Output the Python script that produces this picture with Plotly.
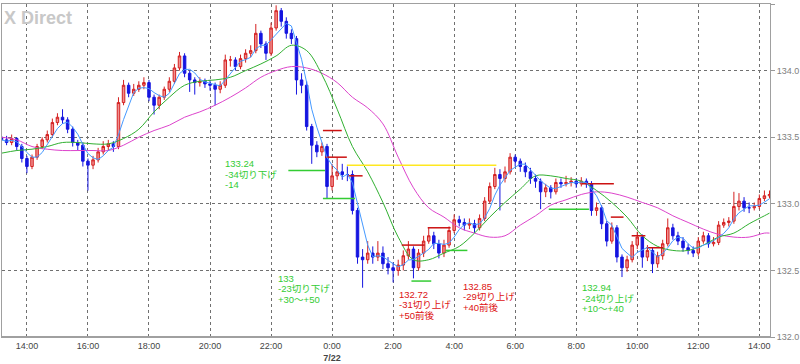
import plotly.graph_objects as go
import pandas as pd

# ---------------- data (10-minute bars) ----------------
first_open = 133.50
closes = [133.48, 133.46, 133.49, 133.43, 133.34, 133.28, 133.35, 133.43, 133.48, 133.52,
          133.61, 133.65, 133.63, 133.56, 133.46, 133.44, 133.32, 133.29, 133.33, 133.39,
          133.43, 133.45, 133.43, 133.76, 133.89, 133.83, 133.86, 133.89, 133.91, 133.80,
          133.74, 133.80, 133.86, 133.92, 134.02, 134.11, 133.98, 133.93, 133.91, 133.92,
          133.90, 133.89, 133.86, 133.89, 134.08, 134.08, 134.03, 134.09, 134.13, 134.15,
          134.28, 134.20, 134.13, 134.32, 134.45, 134.37, 134.28, 134.24, 133.93, 133.89,
          133.58, 133.44, 133.39, 133.43, 133.13, 133.21, 133.24, 133.22, 133.22, 132.95,
          132.60, 132.58, 132.63, 132.60, 132.63, 132.55, 132.52, 132.50, 132.54, 132.61,
          132.66, 132.52, 132.63, 132.72, 132.76, 132.70, 132.63, 132.69, 132.80, 132.88,
          132.86, 132.84, 132.85, 132.82, 132.89, 133.02, 133.13, 133.22, 133.19, 133.24,
          133.35, 133.32, 133.28, 133.24, 133.19, 133.17, 133.09, 133.12, 133.09, 133.16,
          133.15, 133.16, 133.17, 133.15, 133.17, 133.15, 132.95, 132.97, 132.85, 132.72,
          132.82, 132.60, 132.52, 132.58, 132.69, 132.75, 132.60, 132.65, 132.55, 132.61,
          132.70, 132.82, 132.76, 132.72, 132.67, 132.65, 132.63, 132.72, 132.76, 132.70,
          132.71, 132.84, 132.86, 132.87, 132.98, 133.02, 132.97, 132.97, 132.98, 133.04,
          133.06, 133.07]
highs = [133.52, 133.51, 133.52, 133.50, 133.45, 133.36, 133.37, 133.45, 133.50, 133.55,
         133.64, 133.68, 133.71, 133.65, 133.58, 133.48, 133.46, 133.34, 133.36, 133.42,
         133.47, 133.48, 133.47, 133.80, 133.93, 133.91, 133.90, 133.92, 133.95, 133.93,
         133.82, 133.82, 133.88, 133.95, 134.05, 134.14, 134.13, 134.00, 133.95, 133.95,
         133.94, 133.93, 133.91, 133.92, 134.12, 134.11, 134.10, 134.12, 134.16, 134.19,
         134.35, 134.30, 134.22, 134.36, 134.49, 134.47, 134.40, 134.31, 134.26, 133.98,
         133.92, 133.60, 133.47, 133.46, 133.45, 133.30, 133.35, 133.30, 133.28, 133.25,
         132.97, 132.66, 132.72, 132.68, 132.72, 132.68, 132.60, 132.56, 132.58, 132.65,
         132.72, 132.68, 132.66, 132.76, 132.82, 132.79, 132.73, 132.73, 132.83, 132.92,
         132.91, 132.89, 132.89, 132.88, 132.92, 133.05, 133.16, 133.27, 133.26, 133.28,
         133.38, 133.37, 133.34, 133.31, 133.27, 133.22, 133.19, 133.15, 133.14, 133.19,
         133.19, 133.21, 133.20, 133.19, 133.20, 133.19, 133.17, 133.01, 132.99, 132.87,
         132.86, 132.84, 132.62, 132.61, 132.72, 132.79, 132.77, 132.69, 132.67, 132.64,
         132.73, 132.89, 132.85, 132.79, 132.75, 132.70, 132.68, 132.75, 132.79, 132.78,
         132.75, 132.87, 132.89, 132.90, 133.09, 133.08, 133.05, 133.01, 133.01, 133.07,
         133.10, 133.10]
lows = [133.45, 133.44, 133.44, 133.40, 133.31, 133.23, 133.26, 133.33, 133.41, 133.46,
        133.50, 133.59, 133.60, 133.53, 133.43, 133.40, 133.28, 133.10, 133.26, 133.31,
        133.37, 133.40, 133.39, 133.41, 133.74, 133.80, 133.81, 133.84, 133.86, 133.77,
        133.67, 133.71, 133.78, 133.84, 133.90, 134.00, 133.95, 133.84, 133.82, 133.88,
        133.87, 133.85, 133.74, 133.83, 133.87, 134.03, 134.00, 134.01, 134.06, 134.10,
        134.13, 134.17, 134.08, 134.11, 134.30, 134.33, 134.24, 134.20, 133.82, 133.83,
        133.55, 133.30, 133.35, 133.36, 133.04, 133.10, 133.18, 133.18, 133.17, 132.92,
        132.55, 132.37, 132.55, 132.55, 132.57, 132.51, 132.47, 132.41, 132.46, 132.50,
        132.58, 132.44, 132.50, 132.60, 132.70, 132.66, 132.59, 132.60, 132.67, 132.78,
        132.83, 132.80, 132.81, 132.78, 132.80, 132.87, 133.00, 133.11, 132.95, 133.16,
        133.22, 133.28, 133.24, 133.20, 133.15, 133.12, 132.96, 133.05, 133.04, 133.07,
        133.12, 133.13, 133.13, 133.12, 133.13, 133.12, 132.91, 132.91, 132.81, 132.68,
        132.70, 132.56, 132.45, 132.49, 132.56, 132.66, 132.52, 132.57, 132.48, 132.52,
        132.58, 132.68, 132.73, 132.69, 132.64, 132.62, 132.60, 132.61, 132.70, 132.67,
        132.68, 132.69, 132.82, 132.83, 132.85, 132.95, 132.94, 132.93, 132.95, 132.96,
        133.02, 133.04]

# moving averages read every 30 minutes (bar index), plus the last bar
ma_index = list(range(0, 151, 3)) + [151]
ma_green = [133.38, 133.40, 133.41, 133.43, 133.46, 133.46, 133.45, 133.45, 133.49, 133.56,
            133.69, 133.80, 133.89, 133.92, 133.93, 133.95, 134.00, 134.05, 134.11, 134.19,
            134.15, 133.97, 133.71, 133.43, 133.24, 133.01, 132.75, 132.58, 132.58, 132.63,
            132.68, 132.78, 132.90, 133.01, 133.11, 133.21, 133.21, 133.19, 133.17, 133.10,
            133.01, 132.90, 132.76, 132.68, 132.65, 132.65, 132.69, 132.75, 132.78, 132.85,
            132.91, 132.93]
ma_magenta = [133.50, 133.48, 133.43, 133.41, 133.40, 133.40, 133.40, 133.40, 133.44, 133.50,
              133.55, 133.59, 133.65, 133.69, 133.74, 133.80, 133.87, 133.95, 134.00, 134.03,
              134.02, 133.98, 133.91, 133.80, 133.72, 133.60, 133.35, 133.12, 132.97, 132.90,
              132.82, 132.78, 132.75, 132.76, 132.84, 132.91, 132.99, 133.03, 133.07, 133.09,
              133.08, 133.05, 133.01, 132.97, 132.91, 132.86, 132.81, 132.77, 132.75, 132.75,
              132.78, 132.78]

# hand-drawn level lines
lvl_start = ["2022-07-21 22:34", "2022-07-21 23:46", "2022-07-21 23:42", "2022-07-22 00:29",
             "2022-07-22 00:31", "2022-07-21 23:42", "2022-07-22 02:17", "2022-07-22 02:36",
             "2022-07-22 03:08", "2022-07-22 03:43", "2022-07-22 07:06", "2022-07-22 08:11",
             "2022-07-22 09:08", "2022-07-22 09:49", "2022-07-22 10:18"]
lvl_end = ["2022-07-21 23:46", "2022-07-22 00:29", "2022-07-22 00:19", "2022-07-22 05:23",
           "2022-07-22 01:00", "2022-07-22 00:45", "2022-07-22 03:02", "2022-07-22 03:15",
           "2022-07-22 03:53", "2022-07-22 04:26", "2022-07-22 08:25", "2022-07-22 09:14",
           "2022-07-22 09:33", "2022-07-22 10:16", "2022-07-22 10:51"]
lvl_price = [133.25, 133.35, 133.55, 133.29, 133.21, 133.04, 132.69, 132.42,
             132.82, 132.65, 132.96, 133.15, 132.90, 132.76, 132.67]
lvl_color = ["#33cc33", "#cc1111", "#cc1111", "#ffe820", "#cc1111", "#33cc33", "#cc1111", "#33cc33",
             "#cc1111", "#33cc33", "#33cc33", "#cc1111", "#cc1111", "#cc1111", "#cc1111"]

# text notes
lbl_time = ["2022-07-21 20:25", "2022-07-21 22:09", "2022-07-22 02:08", "2022-07-22 04:13", "2022-07-22 08:08"]
lbl_price = [133.30, 132.44, 132.32, 132.38, 132.37]
lbl_lines = [["133.24", "-34切り下げ", "-14"],
             ["133", "-23切り下げ", "+30〜+50"],
             ["132.72", "-31切り上げ", "+50前後"],
             ["132.85", "-29切り上げ", "+40前後"],
             ["132.94", "-24切り上げ", "+10〜+40"]]
lbl_color = ["#33cc33", "#33cc33", "#dd1111", "#dd1111", "#33cc33"]

tick_times = pd.date_range("2022-07-21 14:00", "2022-07-22 14:00", freq="2h")
tick_text = ["14:00", "16:00", "18:00", "20:00", "22:00", "0:00<br><b>7/22</b>", "2:00", "4:00",
             "6:00", "8:00", "10:00", "12:00", "14:00"]
y_ticks = [132.0, 132.5, 133.0, 133.5, 134.0, 134.5]

# ---------------- figure ----------------
times = pd.date_range("2022-07-21 13:10", periods=len(closes), freq="10min")
opens = [first_open] + closes[:-1]
ma_times = [times[i] for i in ma_index]
ma_blue = pd.Series(closes).rolling(4, min_periods=1).mean()

fig = go.Figure()

fig.add_trace(go.Scatter(x=ma_times, y=ma_magenta, mode="lines",
                         line=dict(color="#dd44cc", width=1, shape="spline"), hoverinfo="skip"))
fig.add_trace(go.Scatter(x=ma_times, y=ma_green, mode="lines",
                         line=dict(color="#30b030", width=1, shape="spline"), hoverinfo="skip"))

for s, e, p, c in zip(lvl_start, lvl_end, lvl_price, lvl_color):
    fig.add_trace(go.Scatter(x=[s, e], y=[p, p], mode="lines",
                             line=dict(color=c, width=1.5), hoverinfo="skip"))

fig.add_trace(go.Candlestick(
    x=times, open=opens, high=highs, low=lows, close=closes,
    increasing=dict(line=dict(color="#d42020", width=1), fillcolor="#f09090"),
    decreasing=dict(line=dict(color="#1515e0", width=1), fillcolor="#1515e0"),
    whiskerwidth=0))

fig.add_trace(go.Scatter(x=times, y=ma_blue, mode="lines",
                         line=dict(color="#4499ff", width=1), hoverinfo="skip"))

note_font = "Liberation Sans, Noto Sans CJK JP"
for t, p, lines, c in zip(lbl_time, lbl_price, lbl_lines, lbl_color):
    for k, txt in enumerate(lines):
        fig.add_annotation(x=t, y=p, text=txt, showarrow=False, xanchor="left", yanchor="middle",
                           yshift=-10.5 * k, font=dict(family=note_font, size=9.5, color=c))

fig.add_annotation(xref="paper", yref="paper", x=0, y=1, xshift=0, yshift=-2,
                   xanchor="left", yanchor="top", text="<b>X Direct</b>", showarrow=False,
                   font=dict(family="Liberation Sans", size=18, color="#c8c8c8"))

fig.update_layout(
    width=800, height=364, margin=dict(l=1, r=27, t=4, b=21),
    paper_bgcolor="white", plot_bgcolor="white", showlegend=False,
    xaxis=dict(rangeslider=dict(visible=False), range=["2022-07-21 13:11", "2022-07-22 14:21"],
               tickmode="array", tickvals=tick_times, ticktext=tick_text,
               showgrid=True, gridcolor="#707070", griddash="dot", gridwidth=1,
               showline=True, linecolor="#a0a0a0", linewidth=1, mirror=True,
               ticks="", tickfont=dict(family="Liberation Sans", size=9, color="#444")),
    yaxis=dict(side="right", range=[132.0, 134.5], tickmode="array", tickvals=y_ticks,
               tickformat=".1f", ticks="outside", ticklen=4, tickcolor="#999",
               showgrid=True, gridcolor="#707070", griddash="dot", gridwidth=1,
               showline=True, linecolor="#a0a0a0", linewidth=1, mirror=True, zeroline=False,
               tickfont=dict(family="Liberation Sans", size=9, color="#808080")),
)

fig.add_shape(type="line", xref="paper", yref="paper", x0=0, x1=1, y0=0, y1=0,
              line=dict(color="#a0a0a0", width=2))

fig.write_html("out.html")
